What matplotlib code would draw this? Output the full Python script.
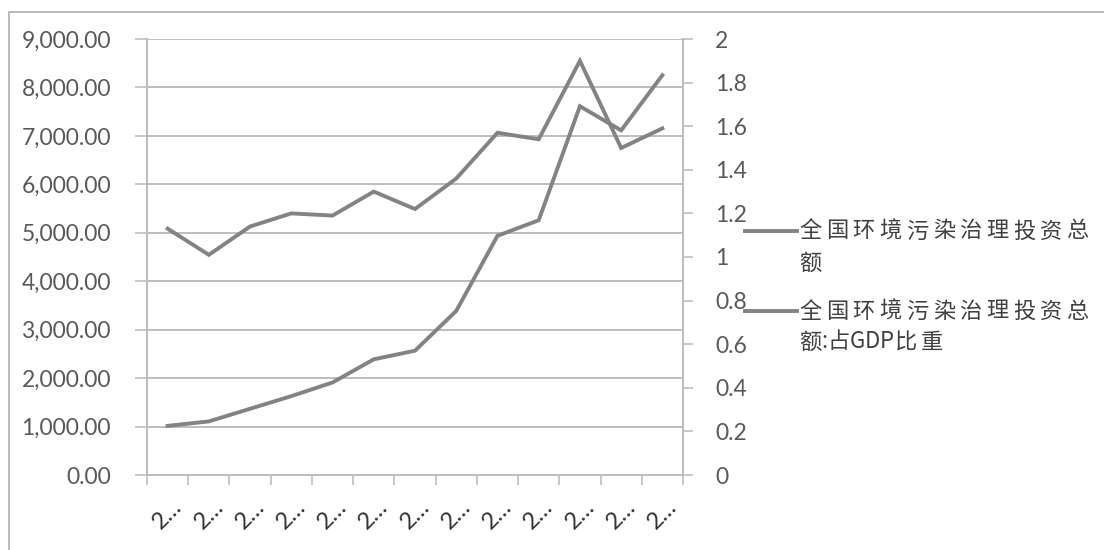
import matplotlib
matplotlib.use("Agg")
import matplotlib.pyplot as plt
from matplotlib.lines import Line2D
from matplotlib.patches import Rectangle
from matplotlib.ticker import FuncFormatter, MultipleLocator, FixedLocator

# 全国环境污染治理投资总额（亿元）与占GDP比重（%）
years = ["2000", "2001", "2002", "2003", "2004", "2005", "2006",
         "2007", "2008", "2009", "2010", "2011", "2012"]
investment = [1014.9, 1106.6, 1367.2, 1627.7, 1909.8, 2388.0, 2566.0,
              3387.3, 4937.0, 5258.4, 7612.2, 7114.0, 8253.5]
gdp_share = [1.13, 1.01, 1.14, 1.20, 1.19, 1.30, 1.22,
             1.36, 1.57, 1.54, 1.90, 1.50, 1.59]
series_names = ["全国环境污染治理投资总\n额", "全国环境污染治理投资总\n额:占GDP比重"]

# narrow category axis: year labels get cut down to "2…"
tick_labels = [y[0] + "…" for y in years]

LINE = "#838383"
GRID = "#bdbdbd"
TEXT = "#595959"
TICK_FONT = ["Lato", "DejaVu Sans"]
CJK_FONT = ["Noto Sans CJK SC", "DejaVu Sans"]

W, H = 1104, 550
fig = plt.figure(figsize=(W / 100, H / 100), dpi=100)
fig.patch.set_facecolor("white")

# outer chart frame
fig.add_artist(Rectangle((9 / W, -0.02), 1.2, 1 - 12 / H + 0.02,
                         transform=fig.transFigure, fill=False,
                         edgecolor="#b5b5b5", lw=1.3))

left, right, top, bottom = 147, 683, 39, 475
ax = fig.add_axes([left / W, 1 - bottom / H, (right - left) / W, (bottom - top) / H])
ax2 = ax.twinx()

x = list(range(len(years)))
ax.plot(x, investment, color=LINE, lw=2.8, solid_joinstyle="miter", zorder=3)
ax2.plot(x, gdp_share, color=LINE, lw=2.8, solid_joinstyle="miter", zorder=3)

ax.set_xlim(-0.5, len(years) - 0.5)
ax.set_ylim(0, 9000)
ax2.set_ylim(0, 2)

ax.yaxis.set_major_locator(MultipleLocator(1000))
ax.yaxis.set_major_formatter(FuncFormatter(lambda v, p: f"{v:,.2f}"))
ax2.yaxis.set_major_locator(MultipleLocator(0.2))
ax2.yaxis.set_major_formatter(FuncFormatter(lambda v, p: f"{v:.1f}".rstrip("0").rstrip(".")))

ax.grid(axis="y", color=GRID, lw=1.4)
ax.set_axisbelow(True)

# category ticks sit between the categories, labels at the centres
ax.xaxis.set_major_locator(FixedLocator(x))
ax.xaxis.set_minor_locator(FixedLocator([i - 0.5 for i in range(len(years) + 1)]))
ax.set_xticklabels(tick_labels, rotation=45, ha="center", va="top",
                   fontsize=17, color="#333333", family=TICK_FONT)
ax.tick_params(axis="x", which="major", length=0, pad=15)
ax.tick_params(axis="x", which="minor", length=7, color=GRID, width=1.2)

ax.tick_params(axis="y", length=9, color=GRID, width=1.2, pad=17,
               labelsize=16.5, labelcolor=TEXT)
ax2.tick_params(axis="y", length=7, color=GRID, width=1.2, pad=16,
                labelsize=16.5, labelcolor=TEXT)
for lab in ax.get_yticklabels() + ax2.get_yticklabels():
    lab.set_family(TICK_FONT)

for a in (ax, ax2):
    a.spines["top"].set_visible(False)
    for s in ("left", "right", "bottom"):
        a.spines[s].set_color(GRID)
        a.spines[s].set_linewidth(1.3)

# legend entries: line swatch aligned with the first text row,
# runs of CJK characters set with a little extra letter spacing
renderer = fig.canvas.get_renderer()


def is_cjk(ch):
    return ord(ch) > 0x2E80


def tracked_text(x0, y0, s, tracking=4.5):
    xpos = x0
    for i, ch in enumerate(s):
        t = fig.text(xpos / W, 1 - y0 / H, ch, family=CJK_FONT, fontsize=16,
                     color="#404040", va="center", ha="left")
        xpos += t.get_window_extent(renderer).width
        if i + 1 < len(s) and is_cjk(ch) and is_cjk(s[i + 1]):
            xpos += tracking


entries = [(231, 263), (311, 342)]
for name, (y1, y2) in zip(series_names, entries):
    fig.add_artist(Line2D([745 / W, 797 / W], [1 - y1 / H, 1 - y1 / H],
                          transform=fig.transFigure, color=LINE, lw=2.8))
    first, second = name.split("\n")
    tracked_text(799, y1, first)
    tracked_text(799, y2, second)

fig.savefig("out.png", dpi=100, facecolor="white")
